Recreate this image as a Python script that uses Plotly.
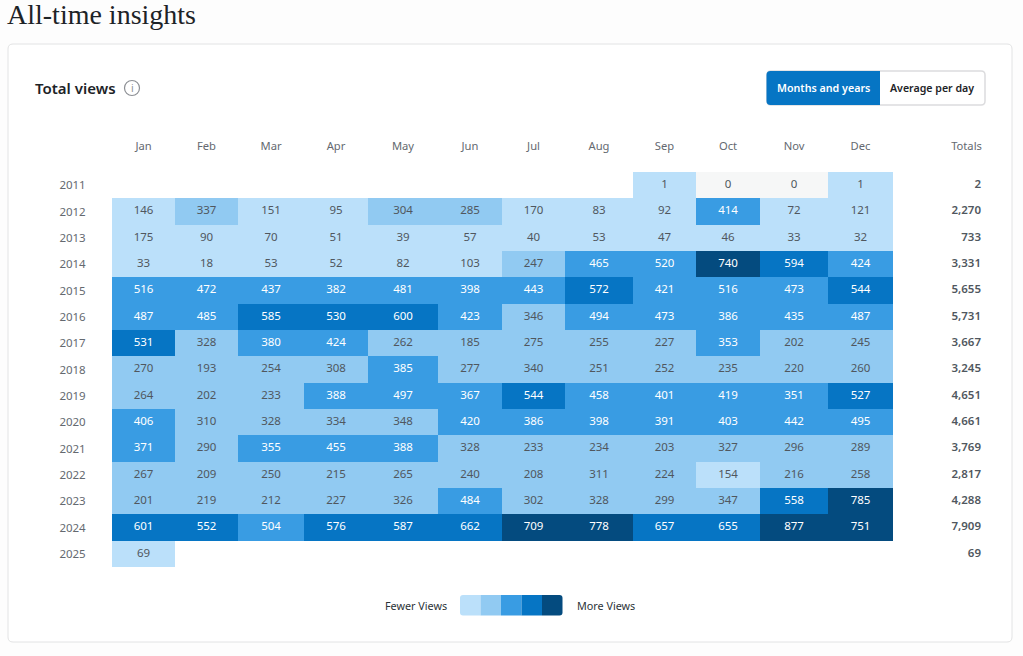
import plotly.graph_objects as go

months = ["Jan","Feb","Mar","Apr","May","Jun","Jul","Aug","Sep","Oct","Nov","Dec"]
years = list(range(2011, 2026))
N = None
v2011 = [N,N,N,N,N,N,N,N,1,0,0,1]
v2012 = [146,337,151,95,304,285,170,83,92,414,72,121]
v2013 = [175,90,70,51,39,57,40,53,47,46,33,32]
v2014 = [33,18,53,52,82,103,247,465,520,740,594,424]
v2015 = [516,472,437,382,481,398,443,572,421,516,473,544]
v2016 = [487,485,585,530,600,423,346,494,473,386,435,487]
v2017 = [531,328,380,424,262,185,275,255,227,353,202,245]
v2018 = [270,193,254,308,385,277,340,251,252,235,220,260]
v2019 = [264,202,233,388,497,367,544,458,401,419,351,527]
v2020 = [406,310,328,334,348,420,386,398,391,403,442,495]
v2021 = [371,290,355,455,388,328,233,234,203,327,296,289]
v2022 = [267,209,250,215,265,240,208,311,224,154,216,258]
v2023 = [201,219,212,227,326,484,302,328,299,347,558,785]
v2024 = [601,552,504,576,587,662,709,778,657,655,877,751]
v2025 = [69,N,N,N,N,N,N,N,N,N,N,N]
rows = [v2011,v2012,v2013,v2014,v2015,v2016,v2017,v2018,v2019,v2020,v2021,v2022,v2023,v2024,v2025]
totals = [2,2270,733,3331,5655,5731,3667,3245,4651,4661,3769,2817,4288,7909,69]

# layout constants
W, H = 1023, 656
col_widths = [63,63,66,64,70,64,63,68,63,64,68,65]
edges = [0]
for w in col_widths:
    edges.append(edges[-1] + w)
centers = [(a + b) / 2 for a, b in zip(edges, edges[1:])]
grey = "#f6f7f7"
blues = ["#bbe0fa", "#91caf2", "#399ce3", "#0675c4", "#044b7f"]
zmax = 900
bins = [0.5, 178, 350, 525, 700, zmax]
TXT = "#50575e"
FONT = "Noto Sans"

scale = [[0, grey], [bins[0]/zmax, grey]]
for c, a, b in zip(blues, bins, bins[1:]):
    scale += [[a/zmax, c], [b/zmax, c]]

fig = go.Figure()

def px(x): return x / W
def py(y): return 1 - y / H

def rr(x0, y0, x1, y1, r, corners=(1, 1, 1, 1)):
    tl, tr, br, bl = [r * c for c in corners]
    return (f"M{px(x0+tl)},{py(y0)} L{px(x1-tr)},{py(y0)} Q{px(x1)},{py(y0)} {px(x1)},{py(y0+tr)} "
            f"L{px(x1)},{py(y1-br)} Q{px(x1)},{py(y1)} {px(x1-br)},{py(y1)} "
            f"L{px(x0+bl)},{py(y1)} Q{px(x0)},{py(y1)} {px(x0)},{py(y1-bl)} "
            f"L{px(x0)},{py(y0+tl)} Q{px(x0)},{py(y0)} {px(x0+tl)},{py(y0)} Z")

shapes = []
def path(d, fill, line=None, lw=1):
    shapes.append(dict(type="path", xref="paper", yref="paper", path=d, fillcolor=fill,
                       line=dict(color=line or "rgba(0,0,0,0)", width=lw if line else 0), layer="below"))

# card
path(rr(8, 44, 1012, 642, 5), "#ffffff", "#e2e3e4", 1)
# toggle
path(rr(767, 71, 985, 105, 4), "#ffffff", "#dcdcde", 1.5)
path(rr(766.5, 71, 880, 105, 4, (1, 0, 0, 1)), blues[3])
# legend ramp
lx = [460, 480.5, 501, 521.5, 542, 562.5]
for i, c in enumerate(blues):
    corners = (1, 0, 0, 1) if i == 0 else (0, 1, 1, 0) if i == 4 else (0, 0, 0, 0)
    path(rr(lx[i], 595, lx[i+1], 615.5, 3, corners), c)
# info icon
shapes.append(dict(type="circle", xref="paper", yref="paper", x0=px(124.5), x1=px(139.5),
                   y0=py(95.5), y1=py(80.5), line=dict(color="#8c8f94", width=1.2), layer="below"))

fig.add_trace(go.Heatmap(
    z=rows, x=edges, y=years, zmin=0, zmax=zmax, colorscale=scale, showscale=False,
    hoverinfo="skip", xgap=0, ygap=0,
))

tx, ty, tt, tc = [], [], [], []
for yr, row in zip(years, rows):
    for cx, val in zip(centers, row):
        if val is None:
            continue
        tx.append(cx); ty.append(yr); tt.append(str(val))
        tc.append("#ffffff" if val >= bins[2] else TXT)
fig.add_trace(go.Scatter(x=tx, y=ty, text=tt, mode="text", textposition="middle center",
                         textfont=dict(family=FONT, size=11.5, color=tc), hoverinfo="skip", showlegend=False))

totals_x = 869
fig.add_trace(go.Scatter(x=[totals_x]*len(years), y=years, text=[f"{t:,}" for t in totals], mode="text",
                         textposition="middle left",
                         textfont=dict(family=FONT, size=11.5, color=TXT, weight=600),
                         hoverinfo="skip", showlegend=False))

fig.update_layout(
    width=W, height=H, margin=dict(l=0, r=0, t=0, b=0), autosize=False,
    paper_bgcolor="#fdfdfd", plot_bgcolor="rgba(0,0,0,0)", showlegend=False,
    shapes=shapes,
    xaxis=dict(domain=[px(112), px(985)], range=[0, 873], side="top", showgrid=False, zeroline=False,
               showline=False, tickmode="array", tickvals=centers + [854.5], ticktext=months + ["Totals"],
               ticks="outside", ticklen=17, tickcolor="rgba(0,0,0,0)",
               tickfont=dict(family=FONT, size=11.2, color="#646970"), fixedrange=True),
    yaxis=dict(domain=[py(567), py(172)], range=[2025.5, 2010.5], showgrid=False, zeroline=False,
               showline=False, tickmode="array", tickvals=years, ticktext=[str(y) for y in years],
               ticks="outside", ticklen=23, tickcolor="rgba(0,0,0,0)",
               tickfont=dict(family=FONT, size=11.5, color="#646970"), fixedrange=True),
)

def note(x, y, text, size, color, anchor="left", family=FONT, weight=None):
    fig.add_annotation(xref="paper", yref="paper", x=px(x), y=py(y), text=text, showarrow=False,
                       xanchor=anchor, yanchor="middle", borderpad=0,
                       font=dict(family=family, size=size, color=color, weight=weight))

note(6, 15, "All-time insights", 28, "#1d2327", family="Liberation Serif")
note(33.5, 88, "Total views", 15, "#1d2327", weight=600)
note(132, 88, "i", 10.5, "#8c8f94", anchor="center")
note(823.5, 88, "Months and years", 10.7, "#ffffff", anchor="center", weight=600)
note(932, 88, "Average per day", 10.6, "#1d2327", anchor="center", weight=600)
note(447.5, 605.5, "Fewer Views", 10.8, "#2c3338", anchor="right")
note(575.5, 605.5, "More Views", 10.8, "#2c3338", anchor="left")

fig.write_html("out.html", config=dict(displayModeBar=False),
               post_script="document.body.style.margin='0';document.body.style.overflow='hidden';")
